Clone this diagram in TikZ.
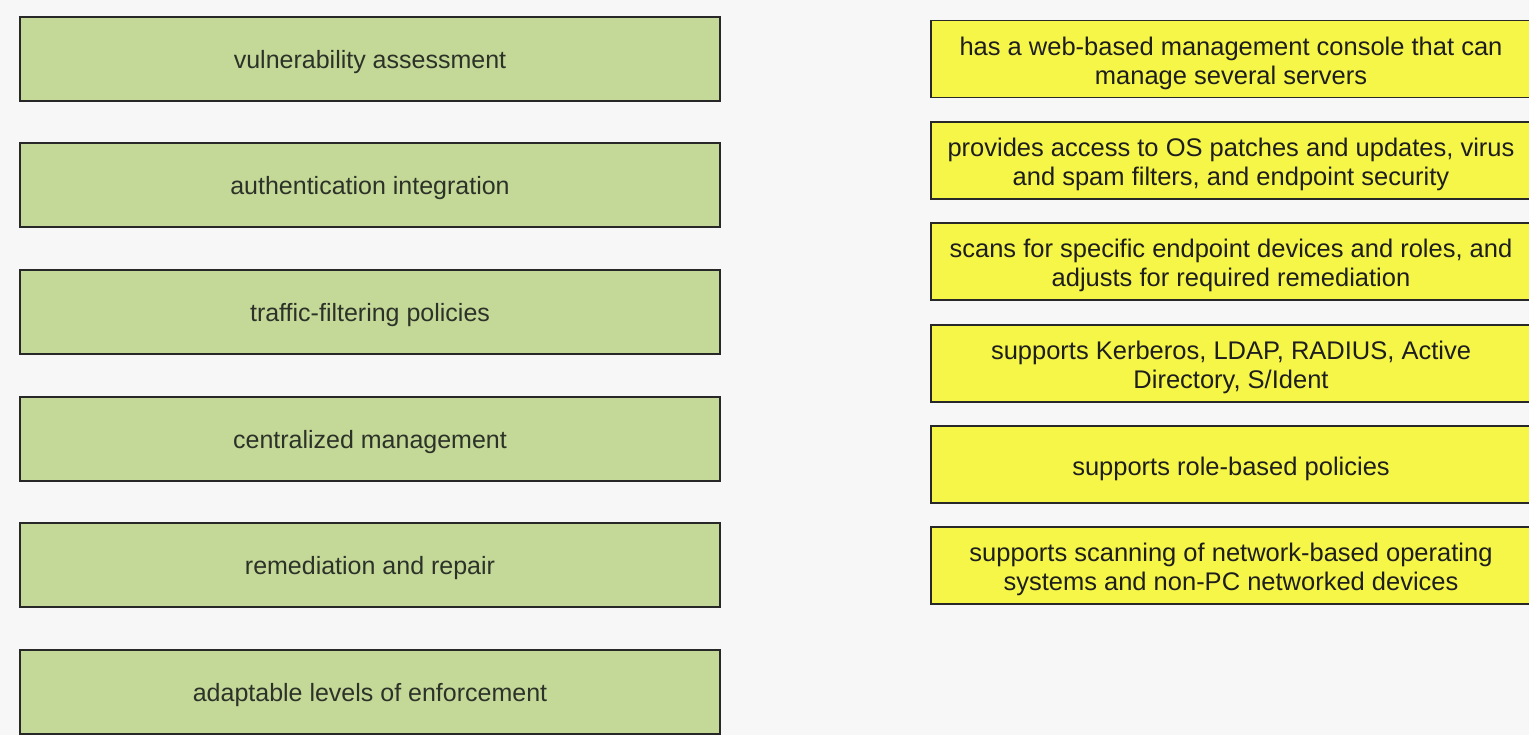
\documentclass[tikz,border=0pt]{standalone}
\usepackage{fontspec}
\setmainfont{Liberation Sans}
\definecolor{bg}{RGB}{247,247,247}
\definecolor{gfill}{RGB}{196,216,152}
\definecolor{yfill}{RGB}{246,246,72}
\definecolor{gtext}{RGB}{45,50,40}
\definecolor{ytext}{RGB}{30,30,30}
\definecolor{edge}{RGB}{40,40,40}
\tikzset{
  gbox/.style={draw=edge, line width=2pt, fill=gfill,
    minimum width=700pt, minimum height=84pt, inner sep=0pt},
  ybox/.style={draw=edge, line width=1.6pt, fill=yfill,
    minimum width=600pt, minimum height=77pt, inner sep=0pt},
  gtxt/.style={text=gtext, inner sep=0pt, font=\fontsize{25}{29}\selectfont},
  ytxt/.style={text=ytext, inner sep=0pt, align=center, font=\fontsize{25.5}{29}\selectfont}
}
\begin{document}
\begin{tikzpicture}[x=1pt,y=-1pt]
\useasboundingbox[fill=bg] (0,0) rectangle (1529,735);
\node[gbox] (g1) at (370,59) {};
\node[gbox] (g2) at (370,185) {};
\node[gbox] (g3) at (370,312) {};
\node[gbox] (g4) at (370,439) {};
\node[gbox] (g5) at (370,565) {};
\node[gbox] (g6) at (370,692) {};
\node[gtxt] (g1t) at ([yshift=-3pt]g1.center) {vulnerability assessment};
\node[gtxt] (g2t) at ([yshift=-3pt]g2.center) {authentication integration};
\node[gtxt] (g3t) at ([yshift=-3pt]g3.center) {traffic-filtering policies};
\node[gtxt] (g4t) at ([yshift=-3pt]g4.center) {centralized management};
\node[gtxt] (g5t) at ([yshift=-3pt]g5.center) {remediation and repair};
\node[gtxt] (g6t) at ([yshift=-3pt]g6.center) {adaptable levels of enforcement};
\node[ybox] (y1) at (1231,59) {};
\node[ybox] (y2) at (1231,160.5) {};
\node[ybox] (y3) at (1231,261.5) {};
\node[ybox] (y4) at (1231,363.5) {};
\node[ybox] (y5) at (1231,464.5) {};
\node[ybox] (y6) at (1231,565.5) {};
\node[ytxt] (y1t) at ([yshift=-4pt]y1.center) {has a web-based management console that can\\manage several servers};
\node[ytxt] (y2t) at ([yshift=-4pt]y2.center) {provides access to OS patches and updates, virus\\and spam filters, and endpoint security};
\node[ytxt] (y3t) at ([yshift=-4pt]y3.center) {scans for specific endpoint devices and roles, and\\adjusts for required remediation};
\node[ytxt] (y4t) at ([yshift=-4pt]y4.center) {supports Kerberos, LDAP, RADIUS, Active\\Directory, S/Ident};
\node[ytxt] (y5t) at ([yshift=-4pt]y5.center) {supports role-based policies};
\node[ytxt] (y6t) at ([yshift=-4pt]y6.center) {supports scanning of network-based operating\\systems and non-PC networked devices};
\end{tikzpicture}
\end{document}
